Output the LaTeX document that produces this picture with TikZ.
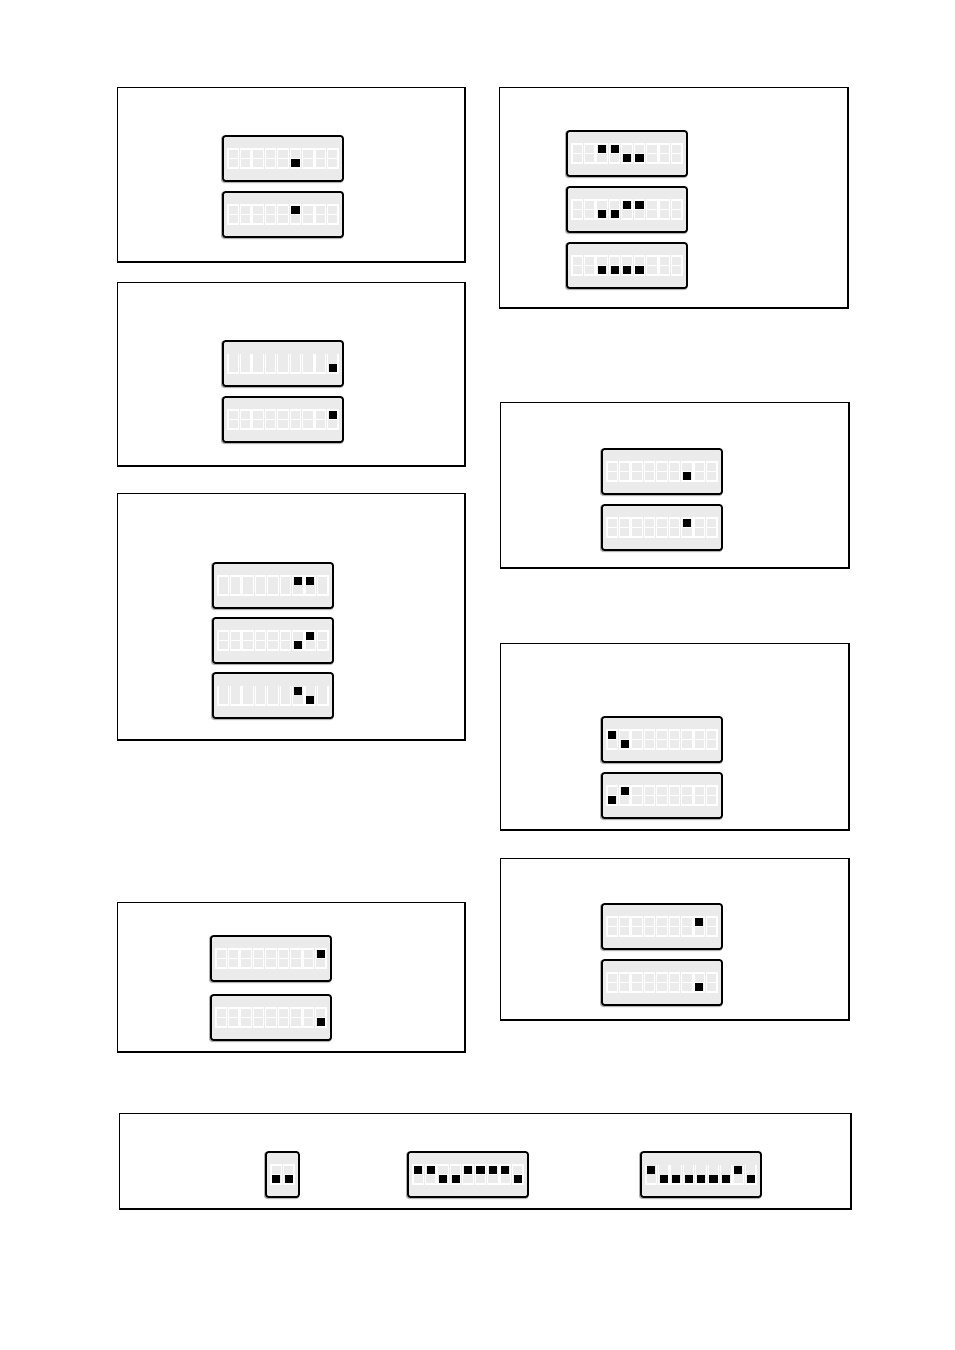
\documentclass[tikz,border=0pt]{standalone}
\usetikzlibrary{calc}
\definecolor{swfill}{HTML}{EBEBEB}
\tikzset{
  panel/.style={draw=black, line width=0.9pt},
  panelthick/.style={draw=black, line width=1.7pt},
  swbox/.style={draw=black, fill=swfill, line width=1.8pt, rounded corners=2.5pt, inner sep=0pt, outer sep=0pt},
  swshadow/.style={fill=black!30, rounded corners=3pt},
  slot/.style={draw=white, line width=1.2pt},
  knob/.style={fill=black}
}
\def\su{u}
\def\sd{d}
% #1 name, #2 x, #3 y, #4 number of slots, #5 slot style (0 full, 1 no middle, 2 open top), #6 states
\newcommand\dipsw[6]{%
  \pgfmathsetmacro\bw{20.5+12.44*(#4-1)}%
  \fill[swshadow] (#2-2,#3-0.5) rectangle ++(\bw+2.5,47.5);
  \node[swbox, minimum width=\bw pt, minimum height=45pt, anchor=north west] (#1) at (#2,#3) {};
  \foreach \s [count=\i] in {#6} {
    \pgfmathsetmacro\sx{#2+5+(\i-1)*12.44}
    \ifcase#5
      \draw[slot] (\sx,#3+13) rectangle ++(10.5,19);
      \draw[slot] (\sx,#3+22.5) -- ++(10.5,0);
    \or
      \draw[slot] (\sx,#3+13) rectangle ++(10.5,19);
    \or
      \draw[slot] (\sx,#3+13) -- ++(0,19) -- ++(10.5,0) -- ++(0,-19);
    \fi
    \ifx\s\su \fill[knob] (\sx+1.2,#3+14) rectangle ++(8.2,8.2); \fi
    \ifx\s\sd \fill[knob] (\sx+1.2,#3+22.8) rectangle ++(8.2,8.2); \fi
  }
}
\newcommand\panelbox[5]{%
  \draw[panel] (#2,#3) rectangle (#4,#5);
  \draw[panelthick] (#2,#5) -- (#4,#5) -- (#4,#3);
  \coordinate (#1) at (#2,#3);
}
\begin{document}
\begin{tikzpicture}[x=1pt,y=-1pt]
\useasboundingbox (0,0) rectangle (954,1350);
% panels
\panelbox{pL1}{117}{87}{465}{262}
\panelbox{pL2}{117}{282}{465}{466}
\panelbox{pL3}{117}{493}{465}{740}
\panelbox{pL4}{117}{902}{465}{1052}
\panelbox{pR1}{499}{87}{848}{308}
\panelbox{pR2}{500}{402}{849}{568}
\panelbox{pR3}{500}{643}{849}{830}
\panelbox{pR4}{500}{858}{849}{1020}
\panelbox{pB}{119}{1113}{851}{1209}
% left column
\dipsw{l1a}{223}{136}{9}{0}{n,n,n,n,n,d,n,n,n}
\dipsw{l1b}{223}{192}{9}{0}{n,n,n,n,n,u,n,n,n}
\dipsw{l2a}{223}{341}{9}{2}{n,n,n,n,n,n,n,n,d}
\dipsw{l2b}{223}{397}{9}{0}{n,n,n,n,n,n,n,n,u}
\dipsw{l3a}{213}{563}{9}{1}{n,n,n,n,n,n,u,u,n}
\dipsw{l3b}{213}{618}{9}{0}{n,n,n,n,n,n,d,u,n}
\dipsw{l3c}{213}{673}{9}{2}{n,n,n,n,n,n,u,d,n}
\dipsw{l4a}{211}{936}{9}{0}{n,n,n,n,n,n,n,n,u}
\dipsw{l4b}{211}{995}{9}{0}{n,n,n,n,n,n,n,n,d}
% right column
\dipsw{r1a}{567}{131}{9}{0}{n,n,u,u,d,d,n,n,n}
\dipsw{r1b}{567}{187}{9}{0}{n,n,d,d,u,u,n,n,n}
\dipsw{r1c}{567}{243}{9}{0}{n,n,d,d,d,d,n,n,n}
\dipsw{r2a}{602}{449}{9}{0}{n,n,n,n,n,n,d,n,n}
\dipsw{r2b}{602}{505}{9}{0}{n,n,n,n,n,n,u,n,n}
\dipsw{r3a}{602}{717}{9}{0}{u,d,n,n,n,n,n,n,n}
\dipsw{r3b}{602}{773}{9}{0}{d,u,n,n,n,n,n,n,n}
\dipsw{r4a}{602}{904}{9}{0}{n,n,n,n,n,n,n,u,n}
\dipsw{r4b}{602}{960}{9}{0}{n,n,n,n,n,n,n,d,n}
% bottom row
\dipsw{b1}{266}{1152}{2}{0}{d,d}
\dipsw{b2}{408}{1152}{9}{0}{u,u,d,d,u,u,u,u,d}
\dipsw{b3}{641}{1152}{9}{2}{u,d,d,d,d,d,d,u,d}
\end{tikzpicture}
\end{document}
